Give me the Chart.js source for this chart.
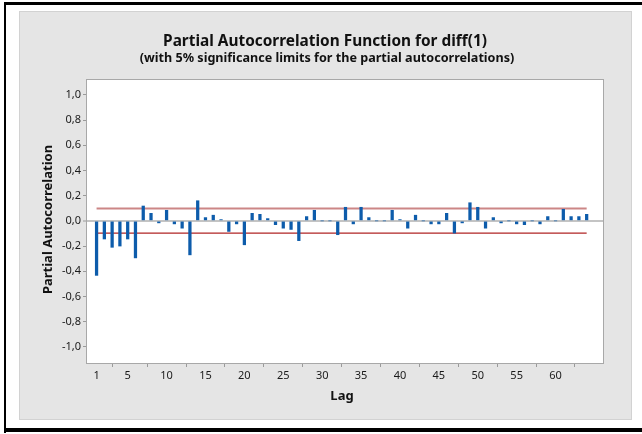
<!DOCTYPE html>
<html>
<head>
<meta charset="utf-8">
<script src="https://cdn.jsdelivr.net/npm/chart.js@4/dist/chart.umd.min.js"></script>
<style>
  html, body { margin: 0; padding: 0; background: #ffffff; }
  #wrap { width: 642px; height: 434px; position: relative; }
</style>
</head>
<body>
<div id="wrap"><canvas id="pacf" width="642" height="434"></canvas></div>
<script>
// Lags and partial autocorrelations of diff(1)
const lags = [
  1, 2, 3, 4, 5, 6, 7, 8, 9, 10, 11, 12, 13, 14, 15, 16,
  17, 18, 19, 20, 21, 22, 23, 24, 25, 26, 27, 28, 29, 30, 31, 32,
  33, 34, 35, 36, 37, 38, 39, 40, 41, 42, 43, 44, 45, 46, 47, 48,
  49, 50, 51, 52, 53, 54, 55, 56, 57, 58, 59, 60, 61, 62, 63, 64
];
const pacf = [
  -0.433, -0.144, -0.210, -0.200, -0.144, -0.294, 0.118, 0.060, -0.016, 0.084, -0.024, -0.058, -0.270, 0.160, 0.026, 0.045,
  0.010, -0.084, -0.024, -0.190, 0.060, 0.052, 0.018, -0.030, -0.058, -0.068, -0.157, 0.034, 0.084, 0.000, 0.000, -0.110,
  0.108, -0.024, 0.108, 0.026, 0.000, 0.000, 0.084, 0.010, -0.058, 0.045, 0.000, -0.024, -0.024, 0.060, -0.097, -0.016,
  0.144, 0.108, -0.058, 0.026, -0.016, 0.000, -0.024, -0.030, 0.000, -0.024, 0.034, 0.000, 0.092, 0.034, 0.034, 0.052
];
// 5% significance limits
const sigUpper = 0.098;
const sigLower = -0.098;

// Axis ticks
const xTicks = [1, 5, 10, 15, 20, 25, 30, 35, 40, 45, 50, 55, 60];
const yTicks = [-1.0, -0.8, -0.6, -0.4, -0.2, 0.0, 0.2, 0.4, 0.6, 0.8, 1.0];

const titleText = 'Partial Autocorrelation Function for diff(1)';
const subtitleText = '(with 5% significance limits for the partial autocorrelations)';
const yTitle = 'Partial Autocorrelation';
const xTitle = 'Lag';

const FONT = '"Noto Sans", "Open Sans", sans-serif';

const firstLag = lags[0];
const lastLag = lags[lags.length - 1];

// Background frame, grey panel, white plot area, titles
const frame = {
  id: 'frame',
  beforeDraw(chart) {
    const c = chart.ctx, a = chart.chartArea;
    c.save();
    c.fillStyle = '#ffffff';
    c.fillRect(0, 0, chart.width, chart.height);
    c.fillStyle = '#000000';
    c.fillRect(4, 2, 638, 3);
    c.fillRect(4, 2, 2, 431);
    c.fillRect(4, 428, 638, 4);
    c.fillStyle = '#e5e5e5';
    c.fillRect(19, 11, 613, 409);
    c.strokeStyle = '#d2d2d2';
    c.lineWidth = 1;
    c.strokeRect(19.5, 11.5, 612, 408);
    c.fillStyle = '#ffffff';
    c.fillRect(a.left, a.top, a.right - a.left, a.bottom - a.top);
    c.restore();
  },
  afterDraw(chart) {
    const c = chart.ctx, a = chart.chartArea;
    c.save();
    c.strokeStyle = '#a8a8a8';
    c.lineWidth = 1;
    c.strokeRect(Math.round(a.left) - 0.5, Math.round(a.top) - 0.5,
                 Math.round(a.right - a.left) + 1, Math.round(a.bottom - a.top) + 1);
    c.fillStyle = '#111111';
    c.textAlign = 'center';
    c.textBaseline = 'alphabetic';
    c.font = 'bold 15.4px ' + FONT;
    c.fillText(titleText, 325, 46);
    c.font = 'bold 12.6px ' + FONT;
    c.fillText(subtitleText, 327, 62);
    c.font = 'bold 13px ' + FONT;
    c.fillText(xTitle, 342, 400);
    c.translate(52, (a.top + a.bottom) / 2 - 2);
    c.rotate(-Math.PI / 2);
    c.fillText(yTitle, 0, 0);
    c.restore();
  }
};

new Chart(document.getElementById('pacf'), {
  type: 'bar',
  data: {
    datasets: [
      {
        type: 'bar',
        label: 'PACF',
        data: lags.map((l, i) => ({ x: l, y: pacf[i] })),
        backgroundColor: '#0d5cab',
        borderWidth: 0,
        barThickness: 2.6,
        order: 1
      },
      {
        type: 'line',
        label: 'Upper limit',
        data: [{ x: firstLag, y: sigUpper }, { x: lastLag, y: sigUpper }],
        borderColor: '#cc8686',
        borderWidth: 2,
        pointRadius: 0,
        fill: false,
        order: 2
      },
      {
        type: 'line',
        label: 'Lower limit',
        data: [{ x: firstLag, y: sigLower }, { x: lastLag, y: sigLower }],
        borderColor: '#b02424',
        borderWidth: 1.3,
        pointRadius: 0,
        fill: false,
        order: 2
      }
    ]
  },
  options: {
    responsive: false,
    animation: false,
    devicePixelRatio: 1,
    layout: { padding: { left: 27, right: 39, top: 80, bottom: 21 } },
    plugins: {
      legend: { display: false },
      tooltip: { enabled: false },
      title: { display: false }
    },
    scales: {
      x: {
        type: 'linear',
        min: -0.23,
        max: 66.1,
        offset: false,
        afterBuildTicks(scale) { scale.ticks = xTicks.map(v => ({ value: v })); },
        afterFit(scale) { scale.height = 50; },
        border: { display: false },
        grid: { drawOnChartArea: false, tickLength: 4, tickColor: '#9a9a9a', tickWidth: 1 },
        ticks: {
          autoSkip: false,
          maxRotation: 0,
          padding: 2,
          color: '#1a1a1a',
          font: { family: FONT, size: 11 },
          callback: v => String(v)
        }
      },
      y: {
        type: 'linear',
        min: -1.129,
        max: 1.119,
        afterBuildTicks(scale) { scale.ticks = yTicks.map(v => ({ value: v })); },
        afterFit(scale) { scale.width = 60; },
        border: { display: false },
        grid: {
          drawOnChartArea: true,
          color: ctx => (ctx.tick && Math.abs(ctx.tick.value) < 1e-9) ? '#c4c4c4' : 'rgba(0,0,0,0)',
          lineWidth: ctx => (ctx.tick && Math.abs(ctx.tick.value) < 1e-9) ? 2 : 1,
          tickLength: 4,
          tickColor: '#9a9a9a',
          tickWidth: 1
        },
        ticks: {
          autoSkip: false,
          padding: 2,
          color: '#1a1a1a',
          font: { family: FONT, size: 11 },
          callback: v => v.toFixed(1).replace('.', ',')
        }
      }
    }
  },
  plugins: [frame]
});
</script>
</body>
</html>
